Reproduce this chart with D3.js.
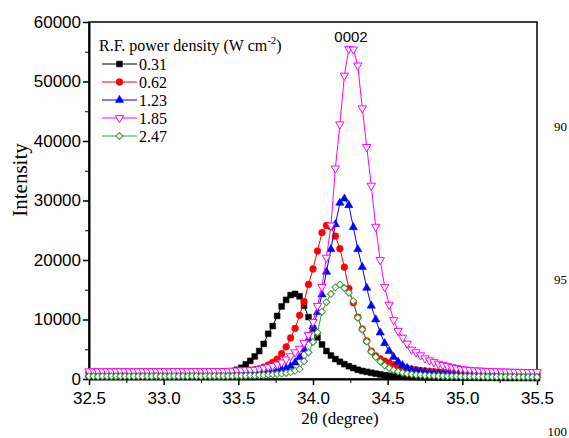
<!DOCTYPE html>
<html>
<head>
<meta charset="utf-8">
<script src="https://cdn.jsdelivr.net/npm/d3@7"></script>
<style>
  html, body { margin: 0; padding: 0; background: #fff; }
  svg { display: block; }
</style>
</head>
<body>
<div id="chart"></div>
<script>
// 2-theta sampling grid (degree)
const theta = [
  32.50,32.53,32.56,32.59,32.62,32.65,32.68,32.71,32.74,32.77,
  32.80,32.83,32.86,32.89,32.92,32.95,32.98,33.01,33.04,33.07,
  33.10,33.13,33.16,33.19,33.22,33.25,33.28,33.31,33.34,33.37,
  33.40,33.43,33.46,33.49,33.52,33.55,33.58,33.61,33.64,33.67,
  33.70,33.73,33.76,33.79,33.82,33.85,33.88,33.91,33.94,33.97,
  34.00,34.03,34.06,34.09,34.12,34.15,34.18,34.21,34.24,34.27,
  34.30,34.33,34.36,34.39,34.42,34.45,34.48,34.51,34.54,34.57,
  34.60,34.63,34.66,34.69,34.72,34.75,34.78,34.81,34.84,34.87,
  34.90,34.93,34.96,34.99,35.02,35.05,35.08,35.11,35.14,35.17,
  35.20,35.23,35.26,35.29,35.32,35.35,35.38,35.41,35.44,35.47,
  35.50
];

const int031 = [
  620,640,610,650,630,660,640,670,650,680,
  660,690,680,700,690,720,710,740,730,760,
  760,790,800,830,850,880,910,950,990,1040,
  1100,1150,1300,1550,1900,2450,3050,3800,4700,5900,
  7600,8900,10600,12200,13300,14100,14300,13900,12300,10400,
  8500,7000,5800,4700,3950,3350,2900,2500,2150,1850,
  1550,1350,1200,1050,900,760,640,550,480,430,
  390,360,340,320,300,290,280,270,260,250,
  240,235,230,225,220,215,210,205,200,200,
  195,190,190,185,180,180,175,170,170,165,
  160
];

const int062 = [
  1150,1180,1140,1170,1200,1160,1190,1150,1180,1210,
  1170,1200,1160,1190,1220,1180,1210,1170,1230,1190,
  1200,1180,1220,1190,1210,1230,1200,1220,1190,1210,
  1200,1230,1260,1300,1350,1400,1480,1560,1750,2000,
  2350,2800,3350,4250,5400,6900,8500,10700,13000,15900,
  18500,21500,24600,25800,25600,24000,21900,18800,15200,12800,
  10400,8400,6400,4700,3900,3400,3000,2700,2400,2150,
  1950,1800,1650,1550,1450,1380,1300,1240,1180,1130,
  1100,1080,1060,1040,1020,1000,990,980,970,960,
  950,940,930,920,910,900,900,890,880,880,
  870
];

const int123 = [
  700,690,710,700,720,700,710,730,710,720,
  730,720,740,730,750,740,760,750,770,760,
  770,780,770,790,780,800,790,800,810,810,
  820,840,860,880,900,930,960,1000,1050,1100,
  1180,1280,1400,1580,1800,2150,2750,3700,5000,6700,
  8800,11200,14200,18000,21800,26000,29600,30300,29200,25500,
  21800,18800,15300,12300,10000,7800,6000,4700,3700,2900,
  2300,1850,1550,1350,1200,1100,1000,950,900,860,
  830,810,800,790,780,770,760,750,740,730,
  720,710,700,700,690,680,680,670,660,660,
  650
];

const int185 = [
  1300,1320,1290,1310,1330,1300,1320,1340,1310,1330,
  1300,1320,1340,1310,1330,1350,1320,1340,1310,1330,
  1350,1320,1340,1330,1350,1320,1340,1350,1330,1340,
  1350,1370,1400,1430,1470,1510,1530,1550,1700,1850,
  2000,2200,2450,2800,3300,3850,4500,5100,6100,7400,
  9600,12300,15500,20400,25800,35400,42800,51000,55500,55400,
  52700,45500,39000,32500,25600,20000,15500,12500,9900,8100,
  6950,5950,4950,4500,4000,3500,3150,2850,2580,2380,
  2180,2000,1850,1700,1600,1540,1480,1440,1400,1360,
  1330,1300,1280,1260,1240,1220,1210,1200,1190,1180,
  1180
];

const int247 = [
  450,470,440,460,450,470,450,460,480,450,
  470,460,480,470,460,490,470,480,470,490,
  480,500,480,490,500,480,500,490,510,500,
  500,510,520,530,540,560,580,600,630,660,
  700,750,820,900,1000,1150,1400,1700,3000,4450,
  6200,7800,11300,12900,14300,15400,15900,15300,14500,13100,
  10300,8300,6300,4600,3700,2900,2250,1850,1500,1250,
  1050,900,800,720,660,610,570,540,510,490,
  470,460,450,440,430,420,410,400,400,390,
  380,380,370,370,360,360,350,350,340,340,
  340
];

const seriesNames = ['0.31', '0.62', '1.23', '1.85', '2.47'];
const seriesValues = [int031, int062, int123, int185, int247];
const xTicks = [32.5, 33.0, 33.5, 34.0, 34.5, 35.0, 35.5];
const yTicks = [0, 10000, 20000, 30000, 40000, 50000, 60000];

const width = 569, height = 438;
const plot = { left: 89, right: 537, top: 22, bottom: 379 };
const serif = '"Liberation Serif", "Times New Roman", Times, serif';
const sans = '"Liberation Sans", Arial, Helvetica, sans-serif';

const styles = [
  { color: '#000000', shape: d3.symbolSquare, size: 34, fill: true, rotate: 0 },
  { color: '#ff0000', shape: d3.symbolCircle, size: 36, fill: true, rotate: 0 },
  { color: '#0000ff', shape: d3.symbolTriangle, size: 30, fill: true, rotate: 0 },
  { color: '#ff00ff', shape: d3.symbolTriangle, size: 30, fill: false, rotate: 180 },
  { color: '#3a9a3a', shape: d3.symbolSquare, size: 24, fill: false, rotate: 45 }
];

const svg = d3.select('#chart').append('svg')
  .attr('width', width)
  .attr('height', height);

svg.append('rect').attr('width', width).attr('height', height).attr('fill', '#fff');

const x = d3.scaleLinear().domain([32.5, 35.5]).range([plot.left, plot.right]);
const y = d3.scaleLinear().domain([0, 60000]).range([plot.bottom, plot.top]);

// frame
svg.append('rect')
  .attr('x', plot.left).attr('y', plot.top)
  .attr('width', plot.right - plot.left).attr('height', plot.bottom - plot.top)
  .attr('fill', 'none').attr('stroke', '#000').attr('stroke-width', 1.5);

// minor ticks
svg.append('g')
  .attr('transform', `translate(0,${plot.bottom})`)
  .call(d3.axisBottom(x).tickValues(d3.range(32.75, 35.5, 0.5)).tickSize(4).tickSizeOuter(0).tickFormat(''))
  .call(g => g.select('.domain').remove());
svg.append('g')
  .attr('transform', `translate(${plot.left},0)`)
  .call(d3.axisLeft(y).tickValues(d3.range(5000, 60000, 10000)).tickSize(4).tickSizeOuter(0).tickFormat(''))
  .call(g => g.select('.domain').remove());

// major axes
const xAxis = svg.append('g')
  .attr('transform', `translate(0,${plot.bottom})`)
  .call(d3.axisBottom(x).tickValues(xTicks).tickSize(6).tickSizeOuter(0).tickPadding(7).tickFormat(d3.format('.1f')));
const yAxis = svg.append('g')
  .attr('transform', `translate(${plot.left},0)`)
  .call(d3.axisLeft(y).tickValues(yTicks).tickSize(6).tickSizeOuter(0).tickPadding(2).tickFormat(d3.format('d')));

[xAxis, yAxis].forEach(g => {
  g.select('.domain').attr('stroke-width', 2);
  g.selectAll('.tick line').attr('stroke-width', 1.5);
  g.selectAll('.tick text')
    .attr('font-family', sans)
    .attr('font-size', '17px')
    .attr('fill', '#000');
});

// series
const line = d3.line().x((d, i) => x(theta[i])).y(d => y(d));

seriesValues.forEach((vals, k) => {
  const st = styles[k];
  const g = svg.append('g');
  g.append('path')
    .datum(vals)
    .attr('d', line)
    .attr('fill', 'none')
    .attr('stroke', st.color)
    .attr('stroke-width', 1);
  g.selectAll('path.pt')
    .data(vals)
    .enter().append('path')
    .attr('class', 'pt')
    .attr('d', d3.symbol().type(st.shape).size(st.size))
    .attr('transform', (d, i) => `translate(${x(theta[i])},${y(d)}) rotate(${st.rotate})`)
    .attr('fill', st.fill ? st.color : '#fff')
    .attr('stroke', st.color)
    .attr('stroke-width', st.fill ? 0.5 : 1);
});

// legend
const legend = svg.append('g');
const title = legend.append('text')
  .attr('x', 99).attr('y', 51)
  .attr('font-family', serif)
  .attr('font-size', '16px')
  .attr('fill', '#000');
title.append('tspan').text('R.F. power density (W cm');
title.append('tspan').attr('font-size', '11px').attr('dy', -7).text('-2');
title.append('tspan').attr('dy', 7).text(')');

seriesNames.forEach((name, k) => {
  const st = styles[k];
  const cy = 64 + k * 18;
  legend.append('line')
    .attr('x1', 102).attr('x2', 137).attr('y1', cy).attr('y2', cy)
    .attr('stroke', st.color).attr('stroke-width', 1);
  legend.append('path')
    .attr('d', d3.symbol().type(st.shape).size(st.size))
    .attr('transform', `translate(119.5,${cy}) rotate(${st.rotate})`)
    .attr('fill', st.fill ? st.color : '#fff')
    .attr('stroke', st.color)
    .attr('stroke-width', st.fill ? 0.5 : 1);
  legend.append('text')
    .attr('x', 139).attr('y', cy + 5.5)
    .attr('font-family', serif)
    .attr('font-size', '16px')
    .attr('fill', '#000')
    .text(name);
});

// peak label
svg.append('text')
  .attr('x', 351).attr('y', 42)
  .attr('text-anchor', 'middle')
  .attr('font-family', sans)
  .attr('font-size', '15px')
  .attr('fill', '#000')
  .text('0002');

// axis titles
svg.append('text')
  .attr('transform', 'translate(27,180) rotate(-90)')
  .attr('text-anchor', 'middle')
  .attr('font-family', serif)
  .attr('font-size', '21px')
  .attr('fill', '#000')
  .text('Intensity');

svg.append('text')
  .attr('x', 340).attr('y', 424)
  .attr('text-anchor', 'middle')
  .attr('font-family', serif)
  .attr('font-size', '17px')
  .attr('fill', '#000')
  .text('2θ (degree)');

// stray line numbers at right margin
[['90', 131], ['95', 284], ['100', 436]].forEach(([t, yy]) => {
  svg.append('text')
    .attr('x', 567).attr('y', yy)
    .attr('text-anchor', 'end')
    .attr('font-family', serif)
    .attr('font-size', '13px')
    .attr('fill', '#000')
    .text(t);
});
</script>
</body>
</html>
